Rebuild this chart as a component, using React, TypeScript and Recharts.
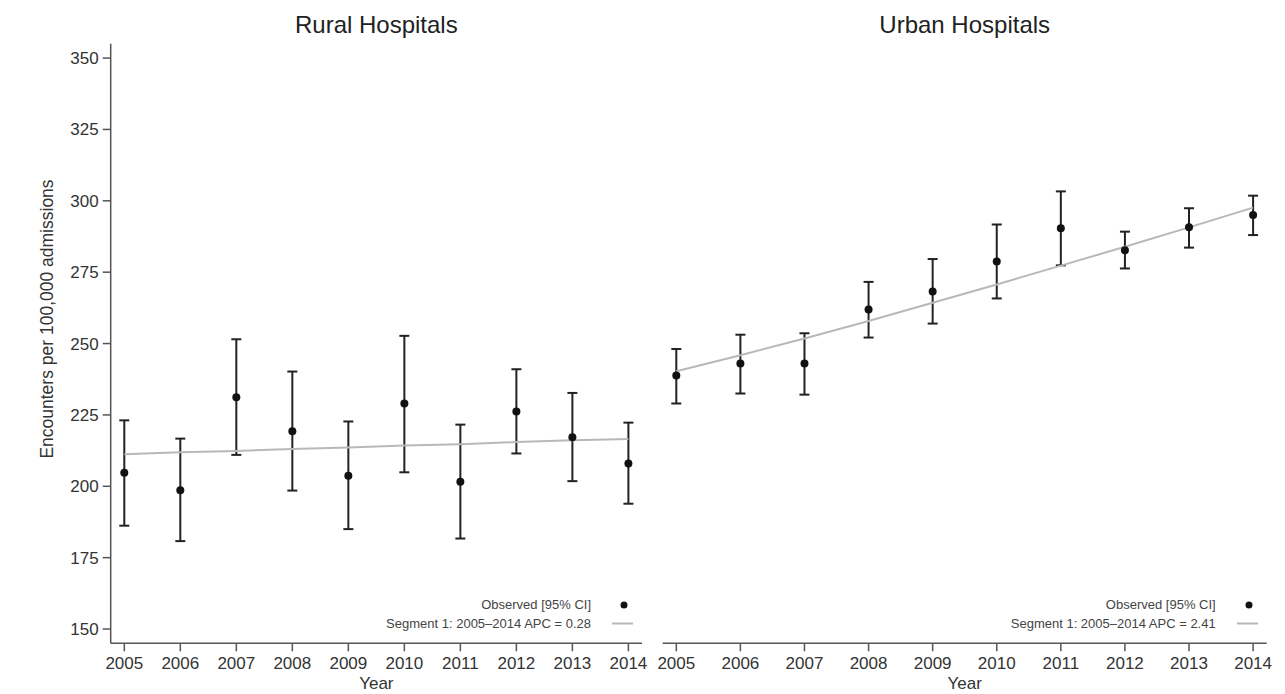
import { ComposedChart, Line, Scatter, ErrorBar, XAxis, YAxis, Label } from 'recharts';

// Years and the read-off values for each panel
const years = [2005, 2006, 2007, 2008, 2009, 2010, 2011, 2012, 2013, 2014];
const yTicks = [150, 175, 200, 225, 250, 275, 300, 325, 350];

const ruralObs = [204.7, 198.6, 231.2, 219.3, 203.7, 229.0, 201.6, 226.2, 217.2, 208.0];
const ruralLow = [186.2, 180.8, 211.0, 198.5, 185.0, 204.9, 181.7, 211.5, 201.8, 193.9];
const ruralHigh = [223.1, 216.7, 251.5, 240.2, 222.7, 252.7, 221.6, 241.0, 232.7, 222.3];
const ruralFit = [211.2, 211.9, 212.4, 213.1, 213.6, 214.3, 214.7, 215.5, 216.1, 216.6];

const urbanObs = [238.8, 243.0, 243.0, 261.9, 268.2, 278.7, 290.4, 282.7, 290.7, 295.0];
const urbanLow = [229.0, 232.5, 232.1, 252.1, 257.0, 265.8, 277.4, 276.3, 283.6, 288.0];
const urbanHigh = [248.1, 253.1, 253.6, 271.6, 279.6, 291.7, 303.3, 289.2, 297.4, 301.8];
const urbanFit = [240.3, 245.9, 251.8, 257.9, 264.3, 270.7, 277.3, 283.9, 290.7, 297.6];

const buildRows = (obs: number[], lo: number[], hi: number[], fit: number[]) =>
  years.map((year, i) => ({ year, obs: obs[i], lo: lo[i], hi: hi[i], fit: fit[i] }));

const ruralData = buildRows(ruralObs, ruralLow, ruralHigh, ruralFit);
const urbanData = buildRows(urbanObs, urbanLow, urbanHigh, urbanFit);

const FONT = '"Liberation Sans", Arial, Helvetica, sans-serif';
const AXIS = '#555';
const TEXT = '#333';

function Legend({ right, apc }: { right: number; apc: string }) {
  // right = pixel position of the plot's right edge
  return (
    <div style={{ position: 'absolute', left: right - 330, top: 595, width: 330, height: 40, fontSize: 13, color: '#444' }}>
      <div style={{ position: 'absolute', right: 51, top: 0, whiteSpace: 'nowrap', lineHeight: '19px' }}>Observed [95% CI]</div>
      <div style={{ position: 'absolute', right: 51, top: 19, whiteSpace: 'nowrap', lineHeight: '19px' }}>
        Segment 1: 2005–2014 APC = {apc}
      </div>
      <svg style={{ position: 'absolute', right: 0, top: 0 }} width={40} height={40}>
        <circle cx={22} cy={10} r={3.5} fill="#111" />
        <line x1={10} x2={31} y1={28.5} y2={28.5} stroke="#b8b8b8" strokeWidth={2} />
      </svg>
    </div>
  );
}

function Panel({ data, showY, left, width, marginLeft, marginRight }: any) {
  return (
    <div style={{ position: 'absolute', left, top: 0 }}>
      <ComposedChart
        width={width}
        height={694}
        data={data}
        margin={{ top: 43.8, right: marginRight, bottom: 20.7, left: marginLeft }}
      >
        <XAxis
          type="number"
          dataKey="year"
          domain={[2005, 2014]}
          ticks={years}
          interval={0}
          padding={{ left: 13.6, right: 13.6 }}
          height={30}
          tickSize={8}
          tickMargin={6}
          stroke={AXIS}
          strokeWidth={1.5}
          tick={{ fill: TEXT, fontSize: 17, fontFamily: FONT }}
        >
          <Label value="Year" position="bottom" offset={4} style={{ fill: TEXT, fontSize: 17, fontFamily: FONT }} />
        </XAxis>
        <YAxis
          type="number"
          domain={[145, 355]}
          ticks={yTicks}
          interval={0}
          hide={!showY}
          width={showY ? 110.7 : 0}
          tickSize={8}
          tickMargin={4}
          stroke={AXIS}
          strokeWidth={1.5}
          tick={{ fill: TEXT, fontSize: 17, fontFamily: FONT }}
        >
          {showY && (
            <Label
              content={() => (
                <text
                  x={47}
                  y={319}
                  transform="rotate(-90 47 319)"
                  textAnchor="middle"
                  dominantBaseline="central"
                  style={{ fill: TEXT, fontSize: 17.5, fontFamily: FONT }}
                >
                  Encounters per 100,000 admissions
                </text>
              )}
            />
          )}
        </YAxis>
        <Scatter
          dataKey="obs"
          data={data}
          isAnimationActive={false}
          shape={(p: any) => <circle cx={p.cx} cy={p.cy} r={4} fill="#111" />}
        >
          <ErrorBar
            dataKey={(d: any) => [d.obs - d.lo, d.hi - d.obs]}
            direction="y"
            width={5}
            stroke="#222"
            strokeWidth={2}
          />
        </Scatter>
        <Line
          type="linear"
          dataKey="fit"
          stroke="#b8b8b8"
          strokeWidth={2}
          dot={false}
          activeDot={false}
          isAnimationActive={false}
        />
      </ComposedChart>
    </div>
  );
}

export default function App() {
  return (
    <div style={{ position: 'absolute', left: 0, top: 0, width: 1285, height: 694, background: '#fff', fontFamily: FONT }}>
      <Panel data={ruralData} showY left={0} width={660} marginLeft={0} marginRight={18} />
      <Panel data={urbanData} showY={false} left={650} width={635} marginLeft={12.7} marginRight={18.3} />

      <div style={{ position: 'absolute', left: 110.7, width: 531.3, top: 11, textAlign: 'center', fontSize: 24, color: '#222' }}>
        Rural Hospitals
      </div>
      <div style={{ position: 'absolute', left: 662.7, width: 604, top: 11, textAlign: 'center', fontSize: 24, color: '#222' }}>
        Urban Hospitals
      </div>

      <Legend right={642} apc="0.28" />
      <Legend right={1266.7} apc="2.41" />
    </div>
  );
}
